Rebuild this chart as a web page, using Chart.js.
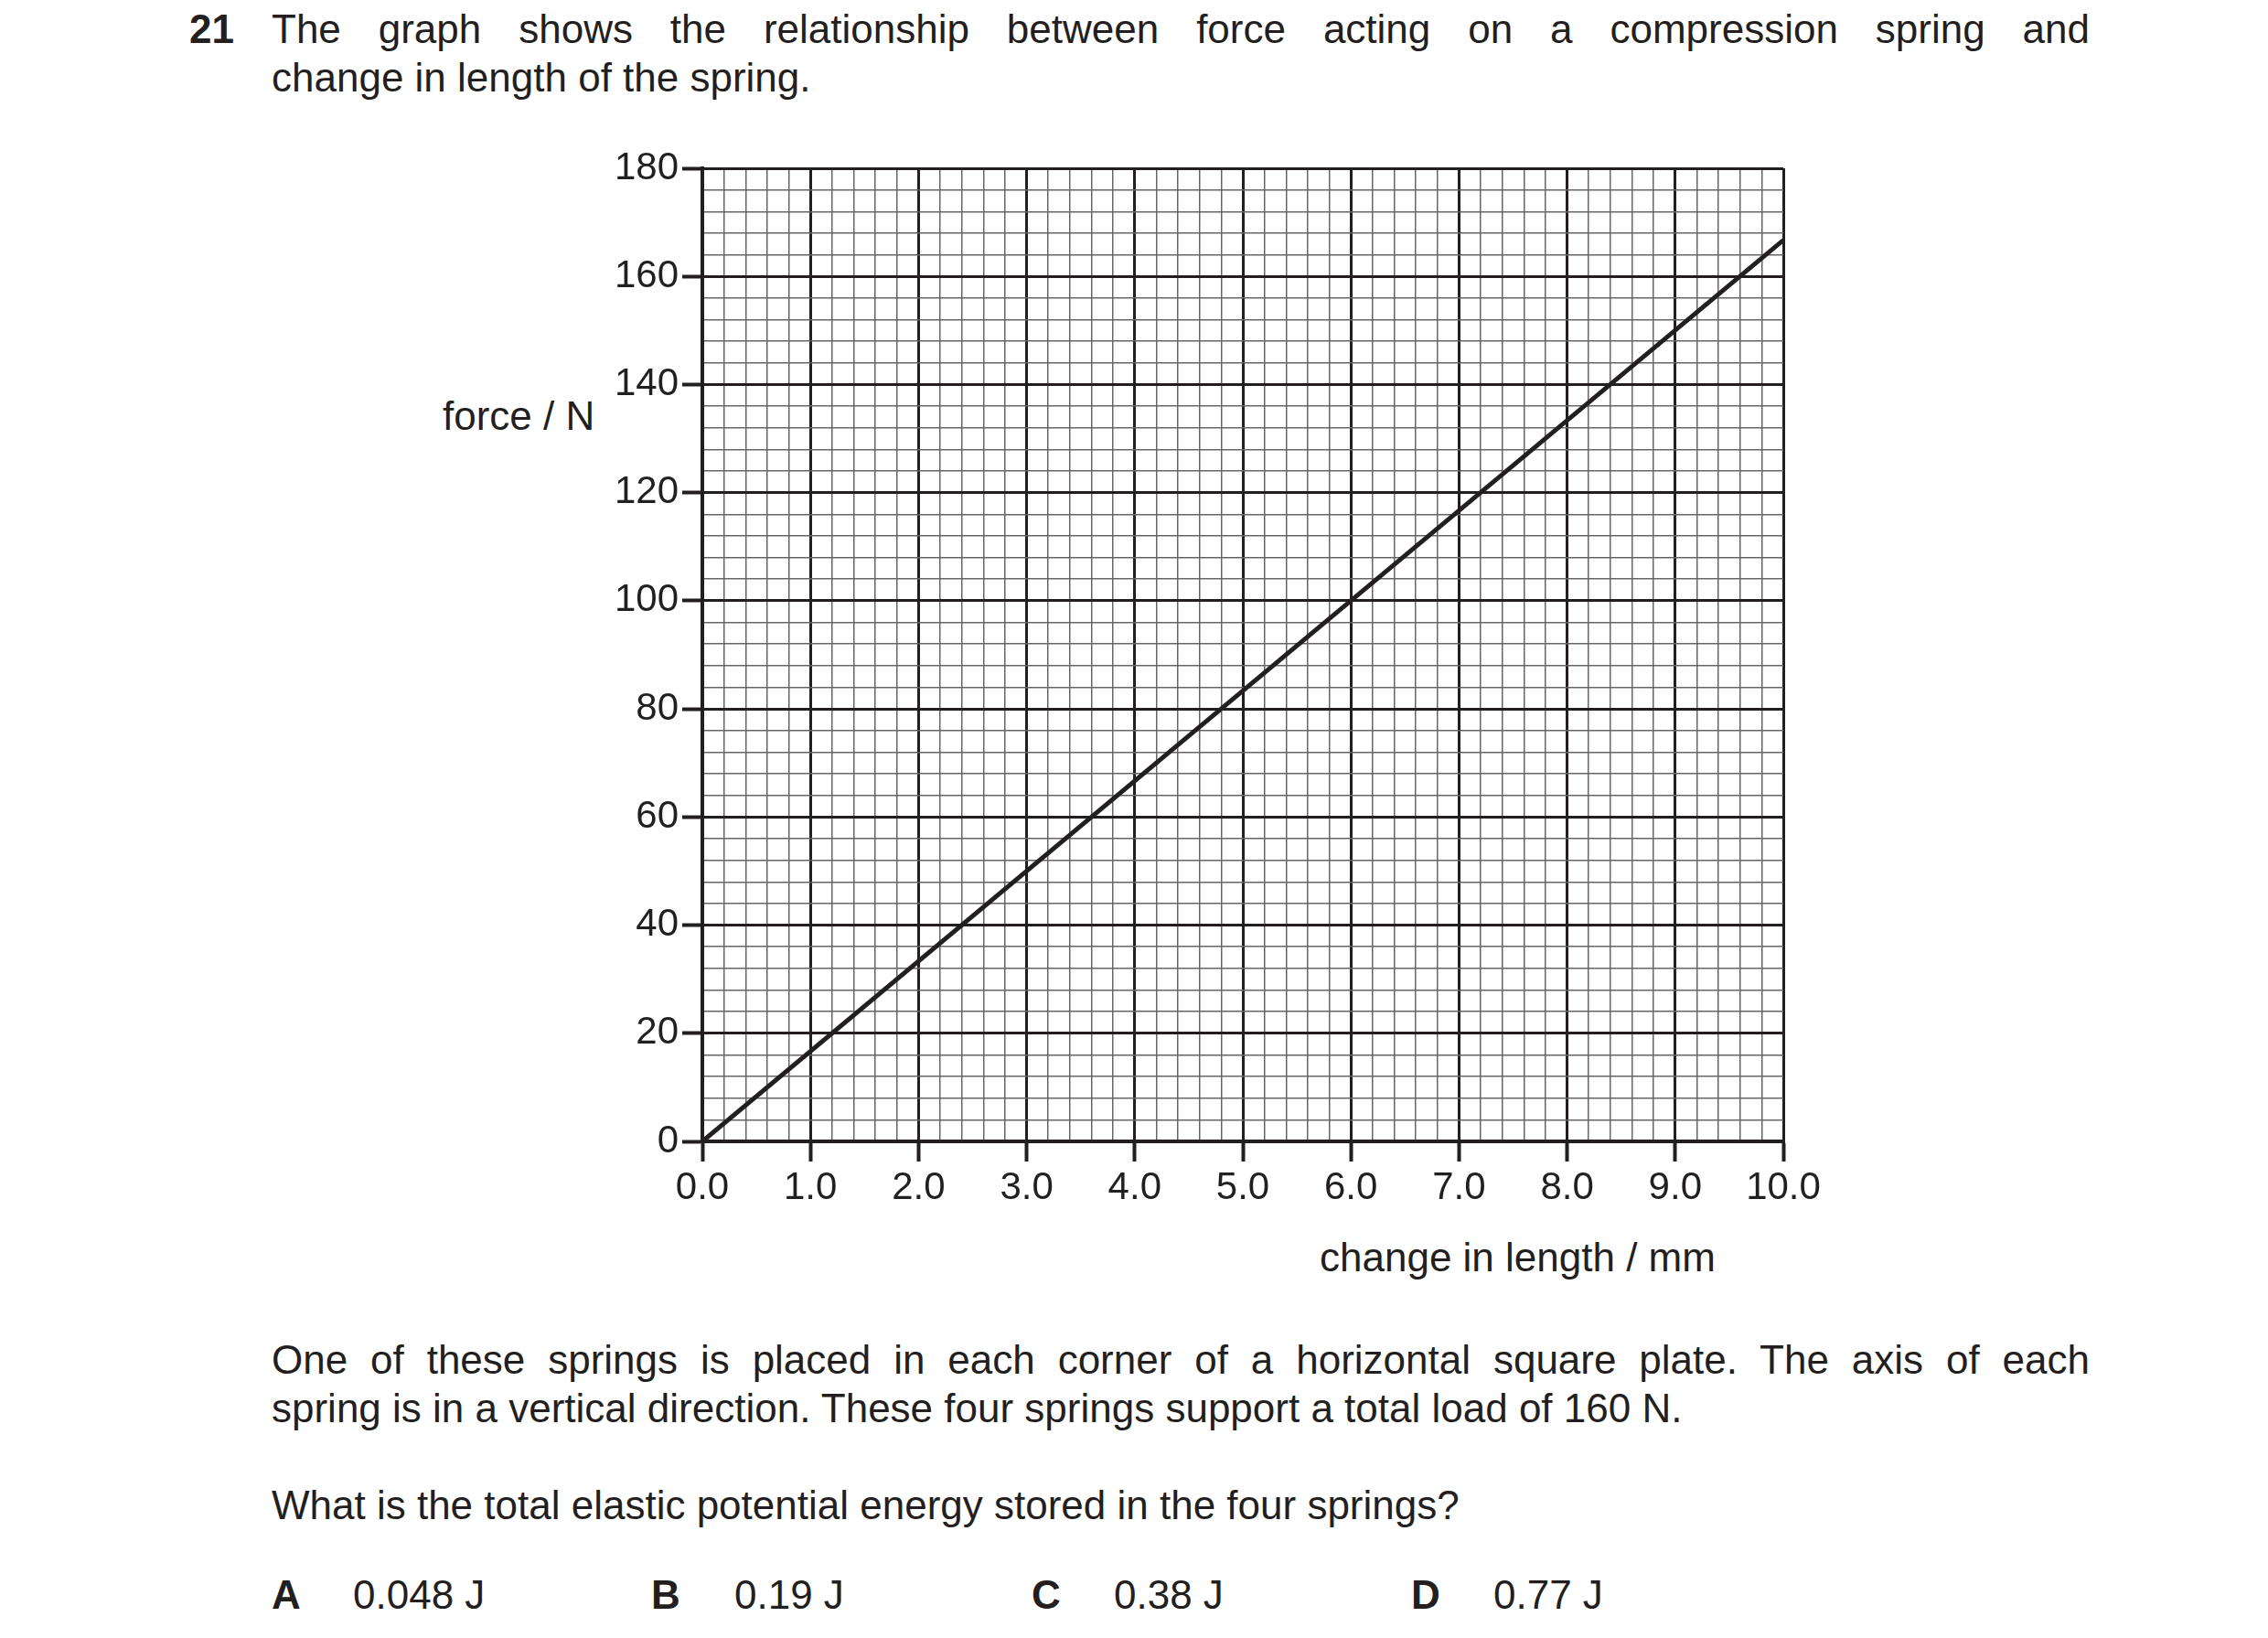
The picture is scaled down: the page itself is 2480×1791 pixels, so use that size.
<!DOCTYPE html>
<html><head><meta charset="utf-8">
<script src="https://cdn.jsdelivr.net/npm/chart.js@4"></script>
<style>
body{margin:0;width:2480px;height:1791px;background:#fff;font-family:"Liberation Sans",Arial,sans-serif;color:#231f20;position:relative;overflow:hidden}
.t{position:absolute;font-size:44px;line-height:53px;white-space:nowrap}
.j{position:absolute;font-size:44px;line-height:53px;width:1988px;text-align:justify;text-align-last:justify}
#cw{position:absolute;left:0;top:0;width:2480px;height:1450px}
</style></head><body>
<div class="t" style="left:207px;top:5px;font-weight:bold">21</div>
<div class="j" style="left:297px;top:5px">The graph shows the relationship between force acting on a compression spring and</div>
<div class="t" style="left:297px;top:58px">change in length of the spring.</div>
<div class="t" style="left:484px;top:428px">force / N</div>
<div class="t" style="left:1443px;top:1348px">change in length / mm</div>
<div class="j" style="left:297px;top:1460px">One of these springs is placed in each corner of a horizontal square plate. The axis of each</div>
<div class="t" style="left:297px;top:1513px">spring is in a vertical direction. These four springs support a total load of 160 N.</div>
<div class="t" style="left:297px;top:1619px">What is the total elastic potential energy stored in the four springs?</div>
<div class="t" style="left:297px;top:1717px;font-weight:bold">A</div><div class="t" style="left:386px;top:1717px">0.048 J</div>
<div class="t" style="left:712px;top:1717px;font-weight:bold">B</div><div class="t" style="left:803px;top:1717px">0.19 J</div>
<div class="t" style="left:1128px;top:1717px;font-weight:bold">C</div><div class="t" style="left:1218px;top:1717px">0.38 J</div>
<div class="t" style="left:1543px;top:1717px;font-weight:bold">D</div><div class="t" style="left:1633px;top:1717px">0.77 J</div>
<div id="cw"><canvas id="c"></canvas></div>
<script>
const changeLength = [0.0, 10.0];
const forceN = [0, 166.7];
const xTickLabels = ["0.0","1.0","2.0","3.0","4.0","5.0","6.0","7.0","8.0","9.0","10.0"];
const yTickLabels = ["0","20","40","60","80","100","120","140","160","180"];
const isInt = v => Math.abs(v - Math.round(v)) < 1e-6;
new Chart(document.getElementById('c'), {
  type: 'scatter',
  data: { datasets: [{ data: changeLength.map((x,i)=>({x, y: forceN[i]})), showLine: true, borderColor: '#231f20', borderWidth: 5, pointRadius: 0 }] },
  options: {
    responsive: true, maintainAspectRatio: false, animation: false,
    layout: { padding: { left: 0, top: 184, right: 530, bottom: 0 } },
    plugins: { legend: { display: false }, tooltip: { enabled: false } },
    scales: {
      x: { type: 'linear', min: 0, max: 10,
        afterFit: s => { s.height = 202; },
        border: { color: '#231f20', width: 4 },
        ticks: { stepSize: 0.2, autoSkip: false, maxRotation: 0, padding: 4, color: '#231f20', font: { size: 42, family: 'Liberation Sans' },
          callback: v => isInt(v) ? xTickLabels[Math.round(v)] : '' },
        grid: { tickLength: 22,
          color: c => isInt(c.tick.value) ? '#231f20' : '#666',
          lineWidth: c => isInt(c.tick.value) ? 3 : 1.5,
          tickColor: c => isInt(c.tick.value) ? '#231f20' : 'rgba(0,0,0,0)',
          tickWidth: 4 } },
      y: { type: 'linear', min: 0, max: 180,
        afterFit: s => { s.width = 768; },
        border: { color: '#231f20', width: 4 },
        ticks: { stepSize: 4, autoSkip: false, padding: 4, color: '#231f20', font: { size: 42, family: 'Liberation Sans' },
          callback: v => (Math.round(v) % 20 === 0) ? yTickLabels[Math.round(v)/20] : '' },
        grid: { tickLength: 22,
          color: c => (Math.round(c.tick.value) % 20 === 0) ? '#231f20' : '#666',
          lineWidth: c => (Math.round(c.tick.value) % 20 === 0) ? 3 : 1.5,
          tickColor: c => (Math.round(c.tick.value) % 20 === 0) ? '#231f20' : 'rgba(0,0,0,0)',
          tickWidth: 4 } }
    }
  }
});
</script></body></html>
